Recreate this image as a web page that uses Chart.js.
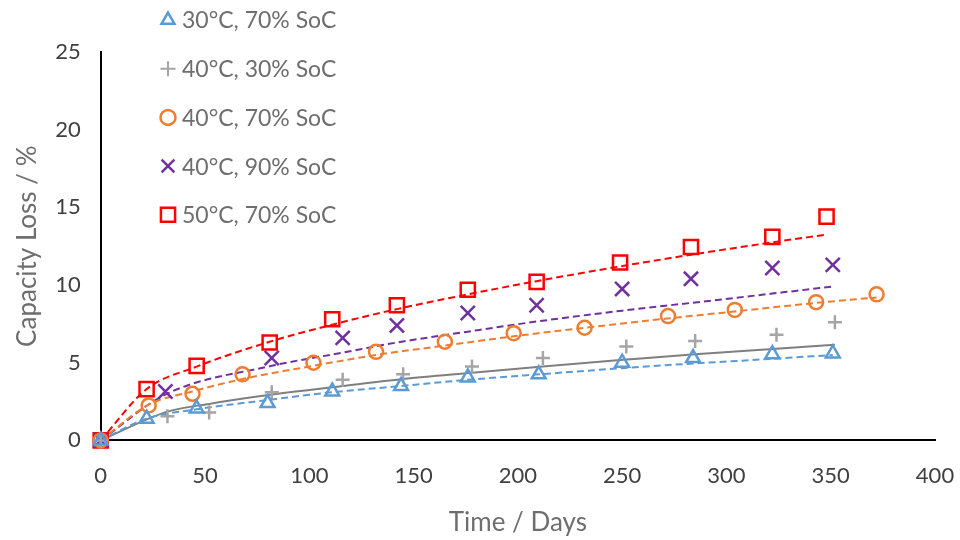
<!doctype html>
<html>

<head>
    <title>Capacity Loss</title>
    <script src="https://cdn.jsdelivr.net/npm/chart.js"></script>
    <style>
        body { margin: 0; background: #fff; }
    </style>
</head>

<body>
    <canvas id="grafico" width="960" height="540"></canvas>

    <script>
    // legenda / nomes das séries
    const NOMES = ['30°C, 70% SoC', '40°C, 30% SoC', '40°C, 70% SoC', '40°C, 90% SoC', '50°C, 70% SoC'];
    const CORES = ['#5B9BD5', '#A5A5A5', '#ED7D31', '#7030A0', '#FF0000'];
    const CORES_AJUSTE = ['#5B9BD5', '#7F7F7F', '#ED7D31', '#7030A0', '#FF0000'];

    // medições (dias, % perda)
    const dias30_70 = [0, 22, 46, 80, 111, 144, 176, 210, 250, 284, 322, 351];
    const perda30_70 = [0, 1.4, 2.05, 2.4, 3.15, 3.5, 4.05, 4.25, 5.0, 5.3, 5.55, 5.6];

    const dias40_30 = [0, 32, 52, 82, 116, 145, 178, 212, 252, 285, 324, 352];
    const perda40_30 = [0, 1.55, 1.8, 3.1, 3.9, 4.25, 4.75, 5.3, 6.05, 6.4, 6.8, 7.6];

    const dias40_70 = [0, 23, 44, 68, 102, 132, 165, 198, 232, 272, 304, 343, 372];
    const perda40_70 = [0, 2.25, 3.0, 4.25, 5.0, 5.7, 6.35, 6.9, 7.25, 8.0, 8.4, 8.9, 9.4];

    const dias40_90 = [0, 31, 82, 116, 142, 176, 209, 250, 283, 322, 351];
    const perda40_90 = [0, 3.15, 5.3, 6.6, 7.4, 8.2, 8.7, 9.75, 10.4, 11.1, 11.3];

    const dias50_70 = [0, 22, 46, 81, 111, 142, 176, 209, 249, 283, 322, 348];
    const perda50_70 = [0, 3.3, 4.8, 6.3, 7.8, 8.7, 9.7, 10.2, 11.45, 12.45, 13.1, 14.4];

    // curvas de ajuste
    const ajuste30_70 = [0, 1.4, 2.0, 2.6, 3.1, 3.5, 3.9, 4.25, 4.65, 4.95, 5.25, 5.5];
    const ajuste40_30 = [0, 1.85, 2.35, 2.95, 3.5, 3.95, 4.35, 4.75, 5.2, 5.55, 5.9, 6.15];
    const ajuste40_70 = [0, 2.3, 3.15, 3.95, 4.8, 5.5, 6.1, 6.7, 7.25, 7.85, 8.3, 8.85, 9.2];
    const ajuste40_90 = [0, 2.95, 4.8, 5.65, 6.3, 7.0, 7.65, 8.35, 8.85, 9.45, 9.9];
    const ajuste50_70 = [0, 3.3, 4.75, 6.35, 7.45, 8.45, 9.4, 10.25, 11.2, 11.95, 12.75, 13.25];

    const ESTILOS = ['triangle', 'cross', 'circle', 'crossRot', 'rect'];
    const RAIOS = [8, 7, 7, 10, 10];

    const DIAS = [dias30_70, dias40_30, dias40_70, dias40_90, dias50_70];
    const PERDAS = [perda30_70, perda40_30, perda40_70, perda40_90, perda50_70];
    const AJUSTES = [ajuste30_70, ajuste40_30, ajuste40_70, ajuste40_90, ajuste50_70];

    function pontos(xs, ys) {
        return xs.map((x, i) => ({ x: x, y: ys[i] }));
    }

    var datasets = [];
    // marcadores
    for (let i = 0; i < 5; i++) {
        datasets.push({
            label: NOMES[i],
            data: pontos(DIAS[i], PERDAS[i]),
            showLine: false,
            pointStyle: ESTILOS[i],
            pointRadius: RAIOS[i],
            pointBorderWidth: 2.5,
            borderColor: CORES[i],
            backgroundColor: 'rgba(0,0,0,0)',
            clip: false
        });
    }
    // linhas de ajuste
    for (let i = 0; i < 5; i++) {
        datasets.push({
            label: 'ajuste ' + NOMES[i],
            data: pontos(DIAS[i], AJUSTES[i]),
            showLine: true,
            pointRadius: 0,
            borderWidth: 2,
            borderColor: CORES_AJUSTE[i],
            borderDash: i == 1 ? [] : [7, 4],
            tension: 0.4,
            cubicInterpolationMode: 'monotone',
            fill: false
        });
    }

    // legenda desenhada dentro do gráfico
    const legendaInterna = {
        id: 'legendaInterna',
        afterDraw(chart) {
            const ctx = chart.ctx;
            ctx.save();
            ctx.font = '23px Lato';
            ctx.textBaseline = 'middle';
            for (let i = 0; i < 5; i++) {
                const y = 20 + i * 48.7;
                ctx.strokeStyle = CORES[i];
                ctx.fillStyle = 'rgba(0,0,0,0)';
                ctx.lineWidth = i == 1 ? 2 : 2.5;
                Chart.helpers.drawPoint(ctx, {
                    pointStyle: ESTILOS[i],
                    radius: i == 4 ? 10 : (i == 3 ? 9 : 7.5),
                    rotation: 0,
                    borderWidth: 2.5
                }, 168, y);
                ctx.fillStyle = '#6E6E6E';
                ctx.fillText(NOMES[i], 182, y + 1);
            }
            ctx.restore();
        }
    };

    Chart.defaults.font.family = 'Lato';
    Chart.defaults.color = '#404040';

    var grafico = new Chart(document.getElementById('grafico').getContext('2d'), {
        type: 'scatter',
        data: { datasets: datasets },
        options: {
            responsive: false,
            animation: false,
            layout: {
                padding: { left: 12, right: 2, top: 52, bottom: 2 }
            },
            scales: {
                x: {
                    min: 0,
                    max: 400,
                    afterFit: (escala) => { escala.paddingRight = 25; },
                    ticks: { stepSize: 50, font: { size: 22 }, padding: 14 },
                    grid: { display: false },
                    border: { display: true, color: '#000', width: 2 },
                    title: {
                        display: true,
                        text: 'Time / Days',
                        font: { size: 26 },
                        color: '#6E6E6E',
                        padding: { top: 4, bottom: 0 }
                    }
                },
                y: {
                    min: 0,
                    max: 25,
                    ticks: { stepSize: 5, font: { size: 22 }, padding: 12 },
                    grid: { display: false },
                    border: { display: true, color: '#000', width: 2 },
                    title: {
                        display: true,
                        text: 'Capacity Loss / %',
                        font: { size: 26 },
                        color: '#6E6E6E',
                        padding: { top: 0, bottom: 0 }
                    }
                }
            },
            plugins: {
                legend: { display: false },
                tooltip: { enabled: false }
            }
        },
        plugins: [legendaInterna]
    });
    </script>
</body>

</html>
